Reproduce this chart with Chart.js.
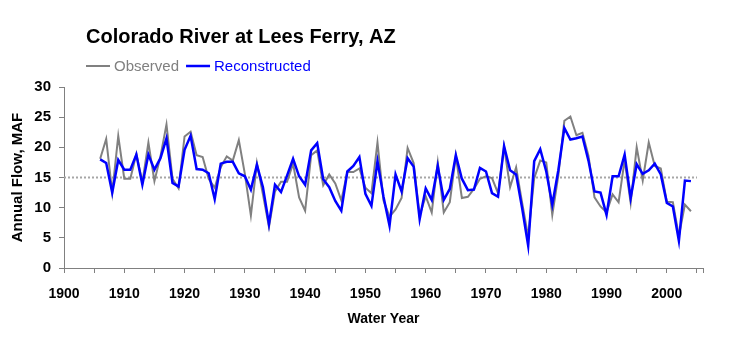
<!DOCTYPE html>
<html>
<head>
<meta charset="utf-8">
<script src="https://cdn.jsdelivr.net/npm/chart.js@4/dist/chart.umd.min.js"></script>
<style>
  html, body { margin: 0; padding: 0; background: #fff; }
  canvas { display: block; }
</style>
</head>
<body>
<canvas id="flowChart" width="733" height="339"></canvas>
<script>
// Colorado River at Lees Ferry: annual flow, million acre-feet
const chartTitle = 'Colorado River at Lees Ferry, AZ';
const firstYear = 1906;

const observed = [
  18.1, 21.4, 12.5, 21.9, 14.8, 14.8, 18.9, 14.2, 20.8, 14.4, // 1906-1915
  18.5, 23.8, 14.8, 13.2, 21.8, 22.6, 18.7, 18.4, 14.8, 13.3, // 1916-1925
  16.7, 18.5, 17.8, 21.2, 15.6, 8.7, 17.4, 12.2, 6.8, 12.7,   // 1926-1935
  14.3, 14.3, 17.3, 11.7, 9.5, 18.7, 19.5, 13.7, 15.5, 14.0,  // 1936-1945
  11.2, 15.9, 15.9, 16.5, 13.3, 12.4, 20.8, 11.2, 8.5, 9.7,   // 1946-1955
  11.6, 19.9, 17.4, 8.7, 11.9, 9.2, 17.5, 9.2, 10.9, 18.6,    // 1956-1965
  11.6, 11.8, 13.1, 14.8, 15.2, 14.9, 12.4, 20.1, 13.4, 16.7, // 1966-1975
  10.8, 5.2, 14.9, 17.8, 17.5, 8.8, 15.3, 24.4, 25.1, 22.0,   // 1976-1985
  22.4, 18.6, 11.7, 10.2, 9.2, 12.2, 10.9, 17.9, 10.8, 20.0,  // 1986-1995
  14.5, 20.8, 16.9, 16.5, 11.0, 10.9, 5.3, 10.5, 9.4          // 1996-2004
];

const reconstructed = [
  18.0, 17.4, 12.5, 17.9, 16.3, 16.3, 18.8, 13.8, 18.8, 16.3, // 1906-1915
  18.2, 21.5, 14.1, 13.5, 19.6, 21.9, 16.4, 16.3, 15.7, 11.4, // 1916-1925
  17.3, 17.6, 17.6, 15.7, 15.2, 13.0, 17.1, 13.4, 7.3, 13.8,  // 1926-1935
  12.6, 15.3, 18.1, 15.2, 13.8, 19.5, 20.7, 14.7, 13.4, 11.1, // 1936-1945
  9.5, 16.0, 16.9, 18.4, 12.3, 10.3, 17.7, 11.8, 7.0, 15.5,   // 1946-1955
  12.7, 18.2, 16.8, 8.1, 13.2, 11.3, 16.9, 11.3, 13.1, 18.7,  // 1956-1965
  14.8, 12.9, 13.0, 16.6, 16.0, 12.4, 11.8, 20.2, 16.2, 15.5, // 1966-1975
  9.9, 3.7, 17.7, 19.7, 16.0, 10.5, 16.2, 23.2, 21.3, 21.5,   // 1976-1985
  21.8, 17.8, 12.7, 12.5, 8.8, 15.2, 15.2, 18.8, 11.6, 17.2,  // 1986-1995
  15.6, 16.2, 17.3, 15.5, 10.8, 10.2, 4.5, 14.5, 14.4         // 1996-2004
];

// long-term mean drawn as the dotted reference line
const meanFlow = 15;
const meanSpan = [1900, 2005];

const xTickYears = [1900, 1905, 1910, 1915, 1920, 1925, 1930, 1935, 1940, 1945, 1950,
                    1955, 1960, 1965, 1970, 1975, 1980, 1985, 1990, 1995, 2000, 2005, 2006];
const yTicks = [0, 5, 10, 15, 20, 25, 30];

const years = observed.map((_, i) => firstYear + i);
const toPoints = vals => vals.map((v, i) => ({ x: years[i], y: v }));

const FONT = '"Liberation Sans", Arial, Helvetica, sans-serif';
const GRAY = '#808080';

// title and legend line drawn over the top of the canvas
const headerPlugin = {
  id: 'header',
  afterDraw(chart) {
    const ctx = chart.ctx;
    ctx.save();
    ctx.fillStyle = '#000';
    ctx.textBaseline = 'alphabetic';
    ctx.font = 'bold 20px ' + FONT;
    ctx.fillText(chartTitle, 86, 43);

    ctx.font = '15px ' + FONT;
    let x = 86;
    chart.data.datasets.forEach(ds => {
      if (!ds.inLegend) return;
      ctx.strokeStyle = ds.borderColor;
      ctx.lineWidth = ds.borderWidth;
      ctx.beginPath();
      ctx.moveTo(x, 66);
      ctx.lineTo(x + 24, 66);
      ctx.stroke();
      x += 28;
      ctx.fillStyle = ds.borderColor;
      ctx.fillText(ds.label, x, 71);
      x += ctx.measureText(ds.label).width + 7;
    });
    ctx.restore();
  }
};

const ctx = document.getElementById('flowChart').getContext('2d');
const flowChart = new Chart(ctx, {
  type: 'line',
  data: {
    datasets: [
      {
        label: 'Observed',
        inLegend: true,
        data: toPoints(observed),
        borderColor: GRAY,
        borderWidth: 2,
        pointRadius: 0,
        tension: 0,
        order: 2
      },
      {
        label: 'Reconstructed',
        inLegend: true,
        data: toPoints(reconstructed),
        borderColor: '#0000FF',
        borderWidth: 2.5,
        pointRadius: 0,
        tension: 0,
        order: 1
      },
      {
        label: 'Mean',
        data: meanSpan.map(yr => ({ x: yr, y: meanFlow })),
        borderColor: '#a6a6a6',
        borderWidth: 2,
        borderDash: [2, 2],
        pointRadius: 0,
        order: 3
      }
    ]
  },
  options: {
    responsive: false,
    animation: false,
    layout: { padding: { top: 87, right: 30, bottom: 0, left: 0 } },
    plugins: {
      legend: { display: false },
      title: { display: false },
      tooltip: { enabled: false }
    },
    scales: {
      x: {
        type: 'linear',
        min: 1900,
        max: 2006,
        afterBuildTicks: scale => { scale.ticks = xTickYears.map(v => ({ value: v })); },
        afterFit: scale => { scale.height = 71; },
        border: { color: GRAY, width: 1 },
        grid: { drawOnChartArea: false, drawTicks: true, tickLength: 5, tickColor: GRAY },
        ticks: {
          autoSkip: false,
          maxRotation: 0,
          padding: 13,
          color: '#000',
          font: { family: FONT, size: 14, weight: 'bold' },
          callback: v => (v % 10 === 0 && v <= 2000) ? String(v) : ''
        },
        title: {
          display: true,
          text: 'Water Year',
          color: '#000',
          font: { family: FONT, size: 14, weight: 'bold' },
          padding: { top: 0, bottom: 11 }
        }
      },
      y: {
        min: 0,
        max: 30,
        afterBuildTicks: scale => { scale.ticks = yTicks.map(v => ({ value: v })); },
        afterFit: scale => { scale.width = 64; },
        border: { color: GRAY, width: 1 },
        grid: { drawOnChartArea: false, drawTicks: true, tickLength: 5, tickColor: GRAY },
        ticks: {
          padding: 8,
          color: '#000',
          font: { family: FONT, size: 15, weight: 'bold' }
        },
        title: {
          display: true,
          text: 'Annual Flow, MAF',
          color: '#000',
          font: { family: FONT, size: 15, weight: 'bold' },
          padding: { top: 9, bottom: 0 }
        }
      }
    }
  },
  plugins: [headerPlugin]
});
</script>
</body>
</html>
